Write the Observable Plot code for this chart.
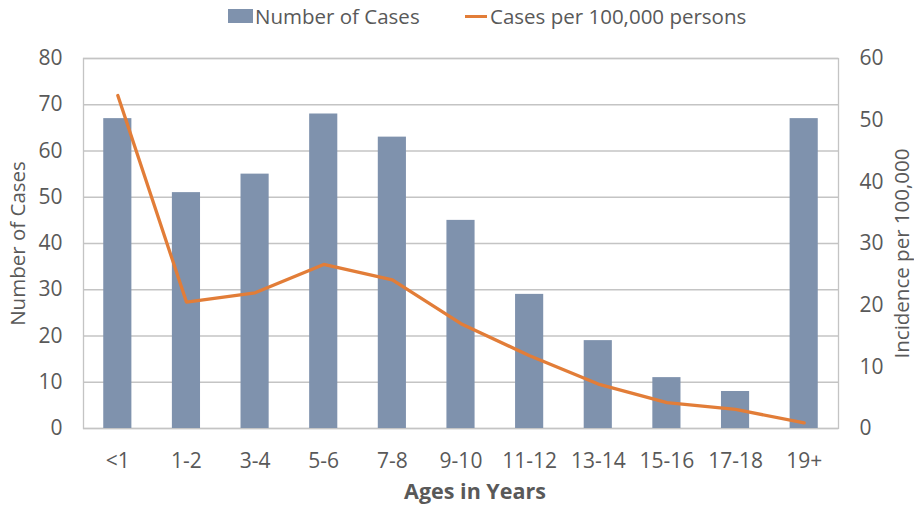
<!DOCTYPE html>
<html>
<head>
<meta charset="utf-8">
<script src="https://cdn.jsdelivr.net/npm/d3@7"></script>
<script src="https://cdn.jsdelivr.net/npm/@observablehq/plot@0.6"></script>
<style>
  body { margin: 0; background: #fff; font-family: "Open Sans", sans-serif; color: #595959; }
  #legend { height: 34px; position: relative; width: 914px; font-size: 20.5px; }
  .item { position: absolute; top: 2px; display: flex; align-items: center; white-space: nowrap; }
  .sw { width: 25px; height: 14px; margin-right: 2px; }
  .ln { width: 22px; height: 3px; margin-right: 3px; }
</style>
</head>
<body>
<div id="legend"></div>
<div id="chart"></div>
<script>
const ages = ["<1","1-2","3-4","5-6","7-8","9-10","11-12","13-14","15-16","17-18","19+"];
const cases = [67, 51, 55, 68, 63, 45, 29, 19, 11, 8, 67];
const incidence = [54, 20.5, 22, 26.6, 24.1, 17, 11.8, 7.2, 4.2, 3.1, 0.9];
const caseTicks = [0, 10, 20, 30, 40, 50, 60, 70, 80];
const incTicks = [0, 10, 20, 30, 40, 50, 60];
const seriesNames = ["Number of Cases", "Cases per 100,000 persons"];
const titles = ["Number of Cases", "Incidence per 100,000", "Ages in Years"];

const barColor = "#7f92ad";
const lineColor = "#e27d38";
const ratio = 80 / 60;

const data = ages.map((a, i) => ({age: a, cases: cases[i], inc: incidence[i]}));

// legend
const legend = document.getElementById("legend");
legend.innerHTML = `
  <div class="item" style="left:228px"><div class="sw" style="background:${barColor}"></div>${seriesNames[0]}</div>
  <div class="item" style="left:465px"><div class="ln" style="background:${lineColor}"></div>${seriesNames[1]}</div>`;

const chart = Plot.plot({
  width: 914,
  height: 479,
  marginTop: 24,
  marginBottom: 85,
  marginLeft: 83,
  marginRight: 76,
  style: {fontFamily: "Open Sans, sans-serif", fontSize: "21px", color: "#595959", background: "#fff"},
  x: {domain: ages, paddingInner: 0.59, paddingOuter: 0.295, round: false},
  y: {domain: [0, 80]},
  marks: [
    Plot.ruleY(caseTicks, {stroke: "#c4c4c4", strokeWidth: 1.3}),
    Plot.frame({stroke: "#c4c4c4", strokeWidth: 1.3}),
    Plot.barY(data, {x: "age", y: "cases", fill: barColor}),
    Plot.line(data, {x: "age", y: d => d.inc * ratio, stroke: lineColor, strokeWidth: 3.3}),
    Plot.axisX({tickSize: 0, tickPadding: 25, label: null}),
    Plot.axisY(caseTicks, {anchor: "left", tickSize: 0, tickPadding: 21, label: null}),
    Plot.axisY(incTicks.map(v => v * ratio), {anchor: "right", tickSize: 0, tickPadding: 21, label: null, tickFormat: d => Math.round(d / ratio)}),
    Plot.text([titles[0]], {frameAnchor: "left", textAnchor: "middle", rotate: -90, dx: -65, fill: "#595959", fontSize: 20.5}),
    Plot.text([titles[1]], {frameAnchor: "right", textAnchor: "middle", rotate: -90, dx: 64, dy: 10, fill: "#595959", fontSize: 20.5}),
    Plot.text([titles[2]], {frameAnchor: "bottom", dy: 70, dx: 14, fill: "#595959", fontSize: 21.5, fontWeight: "bold"})
  ]
});
document.getElementById("chart").appendChild(chart);
</script>
</body>
</html>
